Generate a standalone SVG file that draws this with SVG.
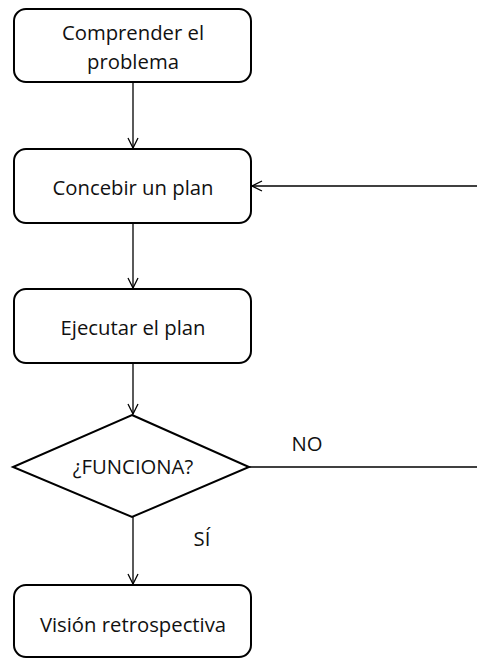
<svg xmlns="http://www.w3.org/2000/svg" width="477" height="659" viewBox="0 0 477 659">
<defs>
<style>
.box{fill:#fff;stroke:#000;stroke-width:2}
.lbl{font-family:"Open Sans","Liberation Sans",sans-serif;font-size:20.3px;fill:#111;text-anchor:middle}
.edge{fill:none;stroke:#000;stroke-width:1.3}
</style>
<marker id="arr" viewBox="0 0 12 12" refX="11" refY="6" markerWidth="12" markerHeight="12" markerUnits="userSpaceOnUse" orient="auto">
<path d="M1,1 L11,6 L1,11" fill="none" stroke="#000" stroke-width="1.3"/>
</marker>
</defs>
<g id="n1"><rect class="box" x="14" y="9" width="237" height="73" rx="12"/><text class="lbl" x="133" y="40">Comprender el</text><text class="lbl" x="133" y="69">problema</text></g>
<g id="n2"><rect class="box" x="14" y="149" width="237" height="74" rx="12"/><text class="lbl" x="133" y="195">Concebir un plan</text></g>
<g id="n3"><rect class="box" x="14" y="289" width="237" height="74" rx="12"/><text class="lbl" x="133" y="335">Ejecutar el plan</text></g>
<g id="n4"><polygon class="box" points="132,415 249,467 132,517 13,467"/><text class="lbl" x="133" y="474">¿FUNCIONA?</text></g>
<g id="n5"><rect class="box" x="14" y="585" width="237" height="72" rx="12"/><text class="lbl" x="133" y="632">Visión retrospectiva</text></g>
<g id="edges">
<line class="edge" x1="133" y1="82" x2="133" y2="148" marker-end="url(#arr)"/>
<line class="edge" x1="133" y1="223" x2="133" y2="288" marker-end="url(#arr)"/>
<line class="edge" x1="133" y1="363" x2="133" y2="414" marker-end="url(#arr)"/>
<line class="edge" x1="133" y1="517" x2="133" y2="584" marker-end="url(#arr)"/>
<polyline class="edge" points="249,467 477,467"/>
<line class="edge" x1="477" y1="186" x2="252" y2="186" marker-end="url(#arr)"/>
</g>
<text class="lbl" x="307" y="451">NO</text>
<text class="lbl" x="202" y="546">SÍ</text>
</svg>
